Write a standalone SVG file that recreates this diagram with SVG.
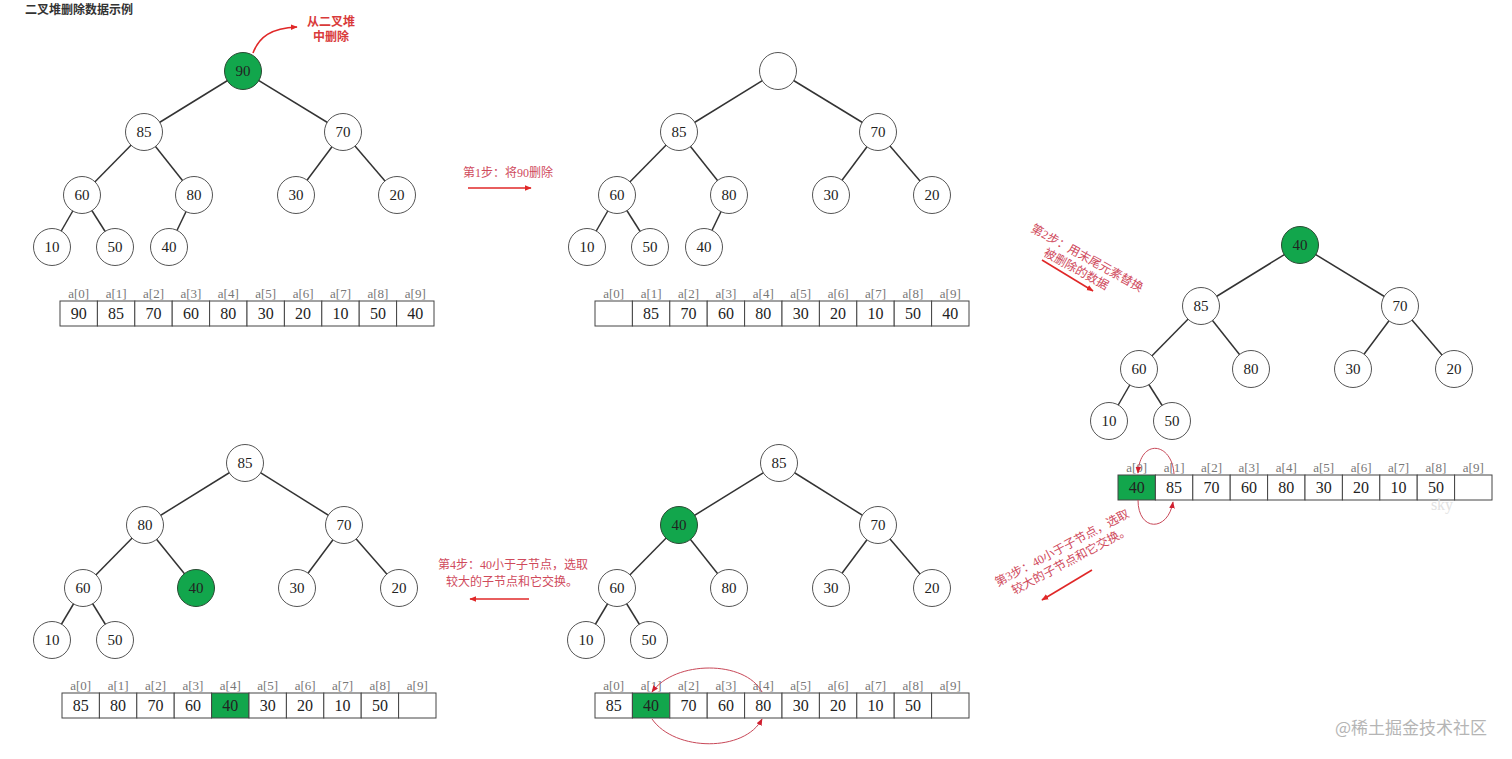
<svg xmlns="http://www.w3.org/2000/svg" width="1512" height="759" viewBox="0 0 1512 759">
<style>
.n circle{fill:#fff;stroke:#555;stroke-width:1}
.n.g circle{fill:#12a64c;stroke:#2a4a33}
.n text{font-family:"Liberation Serif",serif;font-size:15px;fill:#222;text-anchor:middle;dominant-baseline:central}
.e line{stroke:#333;stroke-width:1.5}
.arr rect{fill:#fff;stroke:#444;stroke-width:1}
.arr rect.g{fill:#12a64c}
.arr text.v{font-family:"Liberation Serif",serif;font-size:16px;fill:#222;text-anchor:middle;dominant-baseline:central}
.arr text.l{font-family:"Liberation Serif",serif;font-size:13px;fill:#777;text-anchor:middle}
.red{font-family:"Liberation Serif","Noto Sans CJK SC",serif;font-size:12px;fill:#cf4a5c;text-anchor:middle}
.ra{stroke:#e02828;stroke-width:1.6;fill:none;marker-end:url(#ah)}
.ta{stroke:#c84858;stroke-width:1;fill:none;marker-end:url(#ah2)}
</style>
<defs>
<marker id="ah" viewBox="0 0 10 10" refX="9" refY="5" markerWidth="7" markerHeight="7" orient="auto" markerUnits="userSpaceOnUse"><path d="M0,1 L10,5 L0,9 z" fill="#e02828"/></marker>
<marker id="ah2" viewBox="0 0 10 10" refX="9" refY="5" markerWidth="7" markerHeight="7" orient="auto" markerUnits="userSpaceOnUse"><path d="M0,1 L10,5 L0,9 z" fill="#d02030"/></marker>
</defs>
<rect width="1512" height="759" fill="#fff"/>
<text x="25" y="14" font-family="'Noto Sans CJK SC',sans-serif" font-size="12" font-weight="bold" fill="#333">二叉堆删除数据示例</text>

<g id="connectors">
<g class="e">
<!-- tree 1 -->
<line x1="243" y1="71" x2="144" y2="132"/><line x1="243" y1="71" x2="343" y2="132"/>
<line x1="144" y1="132" x2="82" y2="195"/><line x1="144" y1="132" x2="194" y2="195"/>
<line x1="343" y1="132" x2="296" y2="195"/><line x1="343" y1="132" x2="397" y2="195"/>
<line x1="82" y1="195" x2="52" y2="247"/><line x1="82" y1="195" x2="115" y2="247"/>
<line x1="194" y1="195" x2="169" y2="247"/>
<!-- tree 2 -->
<line x1="778" y1="71" x2="679" y2="132"/><line x1="778" y1="71" x2="878" y2="132"/>
<line x1="679" y1="132" x2="617" y2="195"/><line x1="679" y1="132" x2="729" y2="195"/>
<line x1="878" y1="132" x2="831" y2="195"/><line x1="878" y1="132" x2="932" y2="195"/>
<line x1="617" y1="195" x2="587" y2="247"/><line x1="617" y1="195" x2="650" y2="247"/>
<line x1="729" y1="195" x2="704" y2="247"/>
<!-- tree 3 -->
<line x1="1300" y1="245" x2="1201" y2="306"/><line x1="1300" y1="245" x2="1400" y2="306"/>
<line x1="1201" y1="306" x2="1139" y2="369"/><line x1="1201" y1="306" x2="1251" y2="369"/>
<line x1="1400" y1="306" x2="1353" y2="369"/><line x1="1400" y1="306" x2="1454" y2="369"/>
<line x1="1139" y1="369" x2="1109" y2="421"/><line x1="1139" y1="369" x2="1172" y2="421"/>
<!-- tree 4 -->
<line x1="245" y1="463" x2="145" y2="525"/><line x1="245" y1="463" x2="344" y2="525"/>
<line x1="145" y1="525" x2="83" y2="588"/><line x1="145" y1="525" x2="196" y2="588"/>
<line x1="344" y1="525" x2="297" y2="588"/><line x1="344" y1="525" x2="399" y2="588"/>
<line x1="83" y1="588" x2="52" y2="640"/><line x1="83" y1="588" x2="115" y2="640"/>
<!-- tree 5 -->
<line x1="779" y1="463" x2="679" y2="525"/><line x1="779" y1="463" x2="878" y2="525"/>
<line x1="679" y1="525" x2="617" y2="588"/><line x1="679" y1="525" x2="729" y2="588"/>
<line x1="878" y1="525" x2="831" y2="588"/><line x1="878" y1="525" x2="932" y2="588"/>
<line x1="617" y1="588" x2="586" y2="640"/><line x1="617" y1="588" x2="649" y2="640"/>
</g>
<!-- red step arrows -->
<path class="ra" d="M253,53 C259,37 271,28 297,27"/>
<path class="ra" d="M468,188 L531,188"/>
<path class="ra" d="M1042,260 L1093,291"/>
<path class="ra" d="M1092,570 L1042,600"/>
<path class="ra" d="M529,599 L470,599"/>
</g>

<!-- tree 1 nodes -->
<g id="t1-90" class="n g"><circle cx="243" cy="71" r="18.5"/><text x="243" y="71">90</text></g>
<g id="t1-85" class="n"><circle cx="144" cy="132" r="18.5"/><text x="144" y="132">85</text></g>
<g id="t1-70" class="n"><circle cx="343" cy="132" r="18.5"/><text x="343" y="132">70</text></g>
<g id="t1-60" class="n"><circle cx="82" cy="195" r="18.5"/><text x="82" y="195">60</text></g>
<g id="t1-80" class="n"><circle cx="194" cy="195" r="18.5"/><text x="194" y="195">80</text></g>
<g id="t1-30" class="n"><circle cx="296" cy="195" r="18.5"/><text x="296" y="195">30</text></g>
<g id="t1-20" class="n"><circle cx="397" cy="195" r="18.5"/><text x="397" y="195">20</text></g>
<g id="t1-10" class="n"><circle cx="52" cy="247" r="18.5"/><text x="52" y="247">10</text></g>
<g id="t1-50" class="n"><circle cx="115" cy="247" r="18.5"/><text x="115" y="247">50</text></g>
<g id="t1-40" class="n"><circle cx="169" cy="247" r="18.5"/><text x="169" y="247">40</text></g>

<!-- tree 2 nodes -->
<g id="t2-root" class="n"><circle cx="778" cy="71" r="18.5"/></g>
<g id="t2-85" class="n"><circle cx="679" cy="132" r="18.5"/><text x="679" y="132">85</text></g>
<g id="t2-70" class="n"><circle cx="878" cy="132" r="18.5"/><text x="878" y="132">70</text></g>
<g id="t2-60" class="n"><circle cx="617" cy="195" r="18.5"/><text x="617" y="195">60</text></g>
<g id="t2-80" class="n"><circle cx="729" cy="195" r="18.5"/><text x="729" y="195">80</text></g>
<g id="t2-30" class="n"><circle cx="831" cy="195" r="18.5"/><text x="831" y="195">30</text></g>
<g id="t2-20" class="n"><circle cx="932" cy="195" r="18.5"/><text x="932" y="195">20</text></g>
<g id="t2-10" class="n"><circle cx="587" cy="247" r="18.5"/><text x="587" y="247">10</text></g>
<g id="t2-50" class="n"><circle cx="650" cy="247" r="18.5"/><text x="650" y="247">50</text></g>
<g id="t2-40" class="n"><circle cx="704" cy="247" r="18.5"/><text x="704" y="247">40</text></g>

<!-- tree 3 nodes -->
<g id="t3-40" class="n g"><circle cx="1300" cy="245" r="18.5"/><text x="1300" y="245">40</text></g>
<g id="t3-85" class="n"><circle cx="1201" cy="306" r="18.5"/><text x="1201" y="306">85</text></g>
<g id="t3-70" class="n"><circle cx="1400" cy="306" r="18.5"/><text x="1400" y="306">70</text></g>
<g id="t3-60" class="n"><circle cx="1139" cy="369" r="18.5"/><text x="1139" y="369">60</text></g>
<g id="t3-80" class="n"><circle cx="1251" cy="369" r="18.5"/><text x="1251" y="369">80</text></g>
<g id="t3-30" class="n"><circle cx="1353" cy="369" r="18.5"/><text x="1353" y="369">30</text></g>
<g id="t3-20" class="n"><circle cx="1454" cy="369" r="18.5"/><text x="1454" y="369">20</text></g>
<g id="t3-10" class="n"><circle cx="1109" cy="421" r="18.5"/><text x="1109" y="421">10</text></g>
<g id="t3-50" class="n"><circle cx="1172" cy="421" r="18.5"/><text x="1172" y="421">50</text></g>

<!-- tree 4 nodes -->
<g id="t4-85" class="n"><circle cx="245" cy="463" r="18.5"/><text x="245" y="463">85</text></g>
<g id="t4-80" class="n"><circle cx="145" cy="525" r="18.5"/><text x="145" y="525">80</text></g>
<g id="t4-70" class="n"><circle cx="344" cy="525" r="18.5"/><text x="344" y="525">70</text></g>
<g id="t4-60" class="n"><circle cx="83" cy="588" r="18.5"/><text x="83" y="588">60</text></g>
<g id="t4-40" class="n g"><circle cx="196" cy="588" r="18.5"/><text x="196" y="588">40</text></g>
<g id="t4-30" class="n"><circle cx="297" cy="588" r="18.5"/><text x="297" y="588">30</text></g>
<g id="t4-20" class="n"><circle cx="399" cy="588" r="18.5"/><text x="399" y="588">20</text></g>
<g id="t4-10" class="n"><circle cx="52" cy="640" r="18.5"/><text x="52" y="640">10</text></g>
<g id="t4-50" class="n"><circle cx="115" cy="640" r="18.5"/><text x="115" y="640">50</text></g>

<!-- tree 5 nodes -->
<g id="t5-85" class="n"><circle cx="779" cy="463" r="18.5"/><text x="779" y="463">85</text></g>
<g id="t5-40" class="n g"><circle cx="679" cy="525" r="18.5"/><text x="679" y="525">40</text></g>
<g id="t5-70" class="n"><circle cx="878" cy="525" r="18.5"/><text x="878" y="525">70</text></g>
<g id="t5-60" class="n"><circle cx="617" cy="588" r="18.5"/><text x="617" y="588">60</text></g>
<g id="t5-80" class="n"><circle cx="729" cy="588" r="18.5"/><text x="729" y="588">80</text></g>
<g id="t5-30" class="n"><circle cx="831" cy="588" r="18.5"/><text x="831" y="588">30</text></g>
<g id="t5-20" class="n"><circle cx="932" cy="588" r="18.5"/><text x="932" y="588">20</text></g>
<g id="t5-10" class="n"><circle cx="586" cy="640" r="18.5"/><text x="586" y="640">10</text></g>
<g id="t5-50" class="n"><circle cx="649" cy="640" r="18.5"/><text x="649" y="640">50</text></g>

<!-- arrays -->
<g id="array1" class="arr" transform="translate(60,301)">
<rect x="0" y="0" width="37.4" height="25"/><rect x="37.4" y="0" width="37.4" height="25"/><rect x="74.8" y="0" width="37.4" height="25"/><rect x="112.2" y="0" width="37.4" height="25"/><rect x="149.6" y="0" width="37.4" height="25"/><rect x="187" y="0" width="37.4" height="25"/><rect x="224.4" y="0" width="37.4" height="25"/><rect x="261.8" y="0" width="37.4" height="25"/><rect x="299.2" y="0" width="37.4" height="25"/><rect x="336.6" y="0" width="37.4" height="25"/>
<text class="l" x="18.7" y="-3">a[0]</text><text class="l" x="56.1" y="-3">a[1]</text><text class="l" x="93.5" y="-3">a[2]</text><text class="l" x="130.9" y="-3">a[3]</text><text class="l" x="168.3" y="-3">a[4]</text><text class="l" x="205.7" y="-3">a[5]</text><text class="l" x="243.1" y="-3">a[6]</text><text class="l" x="280.5" y="-3">a[7]</text><text class="l" x="317.9" y="-3">a[8]</text><text class="l" x="355.3" y="-3">a[9]</text>
<text class="v" x="18.7" y="12.5">90</text><text class="v" x="56.1" y="12.5">85</text><text class="v" x="93.5" y="12.5">70</text><text class="v" x="130.9" y="12.5">60</text><text class="v" x="168.3" y="12.5">80</text><text class="v" x="205.7" y="12.5">30</text><text class="v" x="243.1" y="12.5">20</text><text class="v" x="280.5" y="12.5">10</text><text class="v" x="317.9" y="12.5">50</text><text class="v" x="355.3" y="12.5">40</text>
</g>
<g id="array2" class="arr" transform="translate(595,301)">
<rect x="0" y="0" width="37.4" height="25"/><rect x="37.4" y="0" width="37.4" height="25"/><rect x="74.8" y="0" width="37.4" height="25"/><rect x="112.2" y="0" width="37.4" height="25"/><rect x="149.6" y="0" width="37.4" height="25"/><rect x="187" y="0" width="37.4" height="25"/><rect x="224.4" y="0" width="37.4" height="25"/><rect x="261.8" y="0" width="37.4" height="25"/><rect x="299.2" y="0" width="37.4" height="25"/><rect x="336.6" y="0" width="37.4" height="25"/>
<text class="l" x="18.7" y="-3">a[0]</text><text class="l" x="56.1" y="-3">a[1]</text><text class="l" x="93.5" y="-3">a[2]</text><text class="l" x="130.9" y="-3">a[3]</text><text class="l" x="168.3" y="-3">a[4]</text><text class="l" x="205.7" y="-3">a[5]</text><text class="l" x="243.1" y="-3">a[6]</text><text class="l" x="280.5" y="-3">a[7]</text><text class="l" x="317.9" y="-3">a[8]</text><text class="l" x="355.3" y="-3">a[9]</text>
<text class="v" x="56.1" y="12.5">85</text><text class="v" x="93.5" y="12.5">70</text><text class="v" x="130.9" y="12.5">60</text><text class="v" x="168.3" y="12.5">80</text><text class="v" x="205.7" y="12.5">30</text><text class="v" x="243.1" y="12.5">20</text><text class="v" x="280.5" y="12.5">10</text><text class="v" x="317.9" y="12.5">50</text><text class="v" x="355.3" y="12.5">40</text>
</g>
<g id="array3" class="arr" transform="translate(1118,475)">
<rect class="g" x="0" y="0" width="37.4" height="25"/><rect x="37.4" y="0" width="37.4" height="25"/><rect x="74.8" y="0" width="37.4" height="25"/><rect x="112.2" y="0" width="37.4" height="25"/><rect x="149.6" y="0" width="37.4" height="25"/><rect x="187" y="0" width="37.4" height="25"/><rect x="224.4" y="0" width="37.4" height="25"/><rect x="261.8" y="0" width="37.4" height="25"/><rect x="299.2" y="0" width="37.4" height="25"/><rect x="336.6" y="0" width="37.4" height="25"/>
<text class="l" x="18.7" y="-3">a[0]</text><text class="l" x="56.1" y="-3">a[1]</text><text class="l" x="93.5" y="-3">a[2]</text><text class="l" x="130.9" y="-3">a[3]</text><text class="l" x="168.3" y="-3">a[4]</text><text class="l" x="205.7" y="-3">a[5]</text><text class="l" x="243.1" y="-3">a[6]</text><text class="l" x="280.5" y="-3">a[7]</text><text class="l" x="317.9" y="-3">a[8]</text><text class="l" x="355.3" y="-3">a[9]</text>
<text class="v" x="18.7" y="12.5">40</text><text class="v" x="56.1" y="12.5">85</text><text class="v" x="93.5" y="12.5">70</text><text class="v" x="130.9" y="12.5">60</text><text class="v" x="168.3" y="12.5">80</text><text class="v" x="205.7" y="12.5">30</text><text class="v" x="243.1" y="12.5">20</text><text class="v" x="280.5" y="12.5">10</text><text class="v" x="317.9" y="12.5">50</text>
</g>
<g id="array4" class="arr" transform="translate(62,693)">
<rect x="0" y="0" width="37.4" height="25"/><rect x="37.4" y="0" width="37.4" height="25"/><rect x="74.8" y="0" width="37.4" height="25"/><rect x="112.2" y="0" width="37.4" height="25"/><rect class="g" x="149.6" y="0" width="37.4" height="25"/><rect x="187" y="0" width="37.4" height="25"/><rect x="224.4" y="0" width="37.4" height="25"/><rect x="261.8" y="0" width="37.4" height="25"/><rect x="299.2" y="0" width="37.4" height="25"/><rect x="336.6" y="0" width="37.4" height="25"/>
<text class="l" x="18.7" y="-3">a[0]</text><text class="l" x="56.1" y="-3">a[1]</text><text class="l" x="93.5" y="-3">a[2]</text><text class="l" x="130.9" y="-3">a[3]</text><text class="l" x="168.3" y="-3">a[4]</text><text class="l" x="205.7" y="-3">a[5]</text><text class="l" x="243.1" y="-3">a[6]</text><text class="l" x="280.5" y="-3">a[7]</text><text class="l" x="317.9" y="-3">a[8]</text><text class="l" x="355.3" y="-3">a[9]</text>
<text class="v" x="18.7" y="12.5">85</text><text class="v" x="56.1" y="12.5">80</text><text class="v" x="93.5" y="12.5">70</text><text class="v" x="130.9" y="12.5">60</text><text class="v" x="168.3" y="12.5">40</text><text class="v" x="205.7" y="12.5">30</text><text class="v" x="243.1" y="12.5">20</text><text class="v" x="280.5" y="12.5">10</text><text class="v" x="317.9" y="12.5">50</text>
</g>
<g id="array5" class="arr" transform="translate(595,693)">
<rect x="0" y="0" width="37.4" height="25"/><rect class="g" x="37.4" y="0" width="37.4" height="25"/><rect x="74.8" y="0" width="37.4" height="25"/><rect x="112.2" y="0" width="37.4" height="25"/><rect x="149.6" y="0" width="37.4" height="25"/><rect x="187" y="0" width="37.4" height="25"/><rect x="224.4" y="0" width="37.4" height="25"/><rect x="261.8" y="0" width="37.4" height="25"/><rect x="299.2" y="0" width="37.4" height="25"/><rect x="336.6" y="0" width="37.4" height="25"/>
<text class="l" x="18.7" y="-3">a[0]</text><text class="l" x="56.1" y="-3">a[1]</text><text class="l" x="93.5" y="-3">a[2]</text><text class="l" x="130.9" y="-3">a[3]</text><text class="l" x="168.3" y="-3">a[4]</text><text class="l" x="205.7" y="-3">a[5]</text><text class="l" x="243.1" y="-3">a[6]</text><text class="l" x="280.5" y="-3">a[7]</text><text class="l" x="317.9" y="-3">a[8]</text><text class="l" x="355.3" y="-3">a[9]</text>
<text class="v" x="18.7" y="12.5">85</text><text class="v" x="56.1" y="12.5">40</text><text class="v" x="93.5" y="12.5">70</text><text class="v" x="130.9" y="12.5">60</text><text class="v" x="168.3" y="12.5">80</text><text class="v" x="205.7" y="12.5">30</text><text class="v" x="243.1" y="12.5">20</text><text class="v" x="280.5" y="12.5">10</text><text class="v" x="317.9" y="12.5">50</text>
</g>

<!-- swap arcs -->
<g id="swap-arcs">
<path class="ta" d="M1174,474 C1172,442 1140,438 1138,473"/>
<path class="ta" d="M1138,500 C1138,532 1168,532 1173,502"/>
<path class="ta" d="M762,692 C745,660 675,660 652,692"/>
<path class="ta" d="M652,719 C675,752 745,752 762,719"/>
</g>

<!-- labels -->
<g id="labels">
<text class="red" x="331" y="26" font-size="13" font-weight="bold" style="fill:#d93a3a;font-family:'Noto Sans CJK SC',sans-serif">从二叉堆</text>
<text class="red" x="331" y="41" font-size="13" font-weight="bold" style="fill:#d93a3a;font-family:'Noto Sans CJK SC',sans-serif">中删除</text>
<text class="red" x="508" y="177">第1步：将90删除</text>
<g transform="translate(1087,258) rotate(29)"><text class="red" x="0" y="4">第2步：用末尾元素替换</text><text class="red" x="-4" y="19">被删除的数据</text></g>
<g transform="translate(1062,548) rotate(-28)"><text class="red" x="0" y="4">第3步：40小于子节点，选取</text><text class="red" x="2" y="19">较大的子节点和它交换。</text></g>
<text class="red" x="513" y="569">第4步：40小于子节点，选取</text>
<text class="red" x="512" y="586">较大的子节点和它交换。</text>
<text x="1442" y="510" font-family="'Liberation Serif',serif" font-size="16" fill="#e2e2e2" text-anchor="middle">sky</text>
<text x="1411" y="734" font-family="'Noto Sans CJK SC',sans-serif" font-size="17" fill="#b5b5b5" text-anchor="middle">@稀土掘金技术社区</text>
</g>
</svg>
